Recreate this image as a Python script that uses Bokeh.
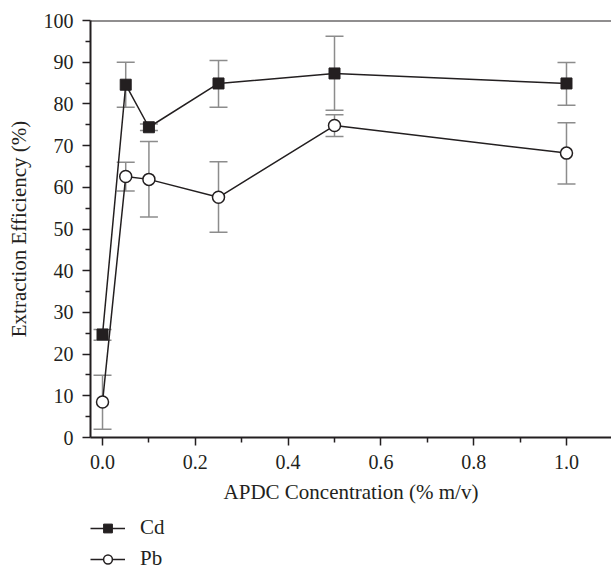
from bokeh.plotting import figure
from bokeh.layouts import column
from bokeh.models import (ColumnDataSource, Whisker, TeeHead, Span, Legend, LegendItem,
                          FixedTicker, NumeralTickFormatter, Range1d)
from bokeh.embed import file_html
from bokeh.resources import INLINE

# Data
conc = [0.0, 0.05, 0.1, 0.25, 0.5, 1.0]
cd = [24.7, 84.6, 74.4, 84.9, 87.3, 84.9]
cd_lo = [23.3, 79.2, 73.6, 79.2, 78.5, 79.7]
cd_hi = [25.9, 90.0, 75.2, 90.4, 96.2, 89.9]
pb = [8.5, 62.6, 61.9, 57.6, 74.8, 68.2]
pb_lo = [2.0, 59.1, 52.9, 49.2, 72.2, 60.8]
pb_hi = [14.9, 66.0, 71.0, 66.1, 77.4, 75.5]
x_ticks = [0.0, 0.2, 0.4, 0.6, 0.8, 1.0]
y_ticks = [0, 10, 20, 30, 40, 50, 60, 70, 80, 90, 100]
series_names = ["Cd", "Pb"]

FONT = "Liberation Serif"
DARK = "#231f20"
GREY = "#8c8c8c"

src_cd = ColumnDataSource(dict(x=conc, y=cd, lo=cd_lo, hi=cd_hi))
src_pb = ColumnDataSource(dict(x=conc, y=pb, lo=pb_lo, hi=pb_hi))

p = figure(width=611, height=511, output_backend="svg", toolbar_location=None,
           x_range=Range1d(-0.0259, 1.097), y_range=Range1d(0, 100),
           min_border_left=90, min_border_right=0, min_border_top=20, min_border_bottom=74)
p.outline_line_color = None
p.xgrid.grid_line_color = None
p.ygrid.grid_line_color = None

for src in (src_cd, src_pb):
    w = Whisker(source=src, base="x", lower="lo", upper="hi",
                line_color=GREY, line_width=1.5,
                upper_head=TeeHead(size=18, line_color=GREY, line_width=1.5),
                lower_head=TeeHead(size=18, line_color=GREY, line_width=1.5))
    p.add_layout(w)

p.line("x", "y", source=src_cd, line_color=DARK, line_width=1.5)
p.scatter("x", "y", source=src_cd, marker="square", size=11,
          fill_color=DARK, line_color=DARK, line_width=1)
p.line("x", "y", source=src_pb, line_color=DARK, line_width=1.5)
p.scatter("x", "y", source=src_pb, marker="circle", size=12,
          fill_color="white", line_color=DARK, line_width=1.5)

# top border
p.add_layout(Span(location=100, dimension="width", line_color=DARK, line_width=2))

for ax in (p.xaxis[0], p.yaxis[0]):
    ax.axis_line_color = DARK
    ax.axis_line_width = 2
    ax.major_tick_line_color = DARK
    ax.major_tick_line_width = 1.5
    ax.minor_tick_line_color = DARK
    ax.minor_tick_line_width = 1.5
    ax.major_tick_in = 0
    ax.major_tick_out = 8
    ax.minor_tick_in = 0
    ax.minor_tick_out = 5
    ax.major_label_text_font = FONT
    ax.major_label_text_font_size = "20px"
    ax.major_label_text_color = DARK
    ax.axis_label_text_font = FONT
    ax.axis_label_text_font_size = "21px"
    ax.axis_label_text_font_style = "normal"
    ax.axis_label_text_color = DARK

p.xaxis.ticker = FixedTicker(ticks=x_ticks, minor_ticks=[0.1, 0.3, 0.5, 0.7, 0.9])
p.xaxis.formatter = NumeralTickFormatter(format="0.0")
p.xaxis.axis_label = "APDC Concentration (% m/v)"
p.xaxis.major_label_standoff = 9
p.xaxis.axis_label_standoff = 8

p.yaxis.ticker = FixedTicker(ticks=y_ticks, minor_ticks=[5, 15, 25, 35, 45, 55, 65, 75, 85, 95])
p.yaxis.axis_label = "Extraction Efficiency (%)"
p.yaxis.major_label_standoff = 9
p.yaxis.axis_label_standoff = 10

# legend strip below the chart
q = figure(width=611, height=60, output_backend="svg", toolbar_location=None,
           x_range=Range1d(0, 1), y_range=Range1d(0, 1),
           x_axis_location=None, y_axis_location=None,
           min_border_left=0, min_border_right=0, min_border_top=0, min_border_bottom=0)
q.grid.visible = False
q.outline_line_color = None
lg_cd = q.line(x=[-5, -4], y=[-5, -4], line_color=DARK, line_width=1.5)
sg_cd = q.scatter(x=[-5], y=[-5], marker="square", size=11, fill_color=DARK, line_color=DARK)
lg_pb = q.line(x=[-5, -4], y=[-5, -4], line_color=DARK, line_width=1.5)
sg_pb = q.scatter(x=[-5], y=[-5], marker="circle", size=12, fill_color="white",
                  line_color=DARK, line_width=1.5)
legend = Legend(items=[LegendItem(label=series_names[0], renderers=[lg_cd, sg_cd]),
                       LegendItem(label=series_names[1], renderers=[lg_pb, sg_pb])],
                location=(0, 0), orientation="vertical",
                glyph_width=35, glyph_height=22, label_height=22, spacing=6,
                label_standoff=15, padding=0, margin=0,
                border_line_color=None, background_fill_alpha=0,
                label_text_font=FONT, label_text_font_size="21px", label_text_color=DARK)
q.add_layout(legend)

layout = column(p, q, spacing=0)
open("out.html", "w").write(file_html(layout, INLINE))
